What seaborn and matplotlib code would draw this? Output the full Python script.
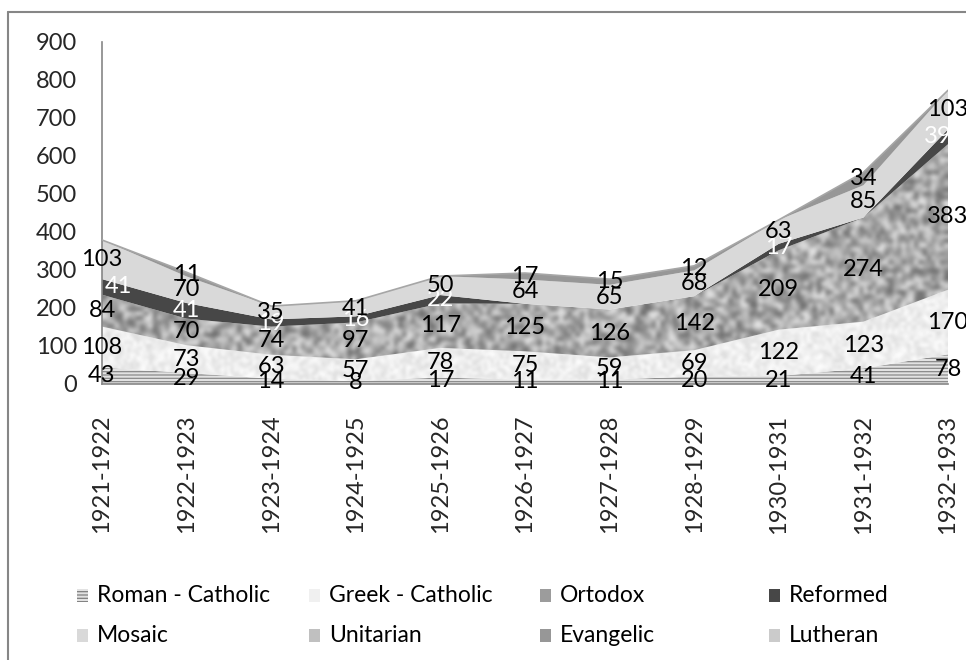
import numpy as np
import pandas as pd
import matplotlib
matplotlib.use("Agg")
import matplotlib.pyplot as plt
from matplotlib.patches import Rectangle
from matplotlib.lines import Line2D
import seaborn as sns

# ---- data: pupils by confession, school years ----
years = ["1921-1922", "1922-1923", "1923-1924", "1924-1925", "1925-1926",
         "1926-1927", "1927-1928", "1928-1929", "1930-1931", "1931-1932",
         "1932-1933"]
roman_catholic = [43, 29, 14, 8, 17, 11, 11, 20, 21, 41, 78]
greek_catholic = [108, 73, 63, 57, 78, 75, 59, 69, 122, 123, 170]
ortodox = [84, 70, 74, 97, 117, 125, 126, 142, 209, 274, 383]
reformed = [41, 41, 19, 16, 22, 0, 0, 0, 17, 0, 39]
mosaic = [103, 70, 35, 41, 50, 64, 65, 68, 63, 85, 103]
unitarian = [0, 0, 0, 0, 0, 0, 0, 0, 0, 0, 0]
evangelic = [0, 11, 0, 0, 0, 17, 15, 12, 0, 34, 0]
lutheran = [0, 0, 0, 0, 0, 0, 0, 0, 0, 0, 0]

series_names = ["Roman - Catholic", "Greek - Catholic", "Ortodox", "Reformed",
                "Mosaic", "Unitarian", "Evangelic", "Lutheran"]
series_values = [roman_catholic, greek_catholic, ortodox, reformed,
                 mosaic, unitarian, evangelic, lutheran]

df = pd.DataFrame(dict(zip(series_names, series_values)), index=years)

sns.set_theme(style="white")
plt.rcParams["font.family"] = ["Lato", "DejaVu Sans"]
plt.rcParams["hatch.linewidth"] = 0.9

W, H = 966, 660
fig = plt.figure(figsize=(W / 100, H / 100), dpi=100)
fig.patch.set_facecolor("white")

left, right, top, bottom = 102, 948, 42, 384
ax = fig.add_axes([left / W, 1 - bottom / H, (right - left) / W, (bottom - top) / H])
ax.set_facecolor("none")

x = np.arange(len(years))
cum = df.cumsum(axis=1)
lowers = cum.shift(1, axis=1).fillna(0)

grays = sns.color_palette(["#dcdcdc", "#f2f2f2", "#a4a4a4", "#474747",
                           "#d9d9d9", "#c0c0c0", "#979797", "#cbcbcb"])

rng = np.random.default_rng(7)


def textured(lo, hi, g0, g1, cells, zorder):
    """Fill the band between lo and hi with a mottled gray texture."""
    poly = ax.fill_between(x, lo, hi, facecolor="none", edgecolor="none",
                           linewidth=0, zorder=zorder)
    noise = rng.random(cells)
    tex = g0 + (g1 - g0) * noise
    img = ax.imshow(tex, extent=[0, len(years) - 1, 0, 900], aspect="auto",
                    cmap="gray", vmin=0, vmax=1, interpolation="bicubic",
                    origin="lower", zorder=zorder)
    img.set_clip_path(poly.get_paths()[0], ax.transData)


for i, name in enumerate(series_names):
    lo = lowers[name].values
    hi = cum[name].values
    if name == "Greek - Catholic":
        textured(lo, hi, 0.86, 1.0, (110, 270), 2)
    elif name == "Ortodox":
        textured(lo, hi, 0.40, 0.92, (80, 200), 2)
    elif name == "Roman - Catholic":
        ax.fill_between(x, lo, hi, facecolor="#e2e2e2", edgecolor="#8a8a8a",
                        hatch="-" * 5, linewidth=0, zorder=2)
    else:
        ax.fill_between(x, lo, hi, facecolor=grays[i], edgecolor="none",
                        linewidth=0, zorder=2)

# outline along the top of the stack
ax.plot(x, cum["Lutheran"].values, color="#a6a6a6", lw=1.2, zorder=3)

# data labels at the middle of each band
label_colors = {"Reformed": "white"}
last = len(years) - 1
for name in series_names:
    mids = (lowers[name].values + cum[name].values) / 2
    for xi, v, m in zip(x, df[name].values, mids):
        if v == 0:
            continue
        ha = "center"
        xpos = xi
        if name == "Reformed" and xi == 0:
            ha, xpos = "left", 0.03
        elif name == "Reformed" and xi == last:
            xpos = last - 0.12
        ax.text(xpos, m, f"{v}", ha=ha, va="center", fontsize=17,
                color=label_colors.get(name, "black"), zorder=5, clip_on=False)

ax.set_xlim(0, last)
ax.set_ylim(0, 900)
ax.set_yticks(range(0, 901, 100))
ax.set_xticks(x)
ax.set_xticklabels(years, rotation=90, fontsize=17)
ax.tick_params(axis="y", labelsize=17, length=0, pad=18)
ax.tick_params(axis="x", length=0, pad=22)
for lab in ax.get_xticklabels():
    lab.set_verticalalignment("top")

sns.despine(ax=ax, top=True, right=True)
for s in ["left", "bottom"]:
    ax.spines[s].set_color("#868686")
    ax.spines[s].set_linewidth(1.2)
ax.grid(False)

# legend: two rows of four entries
col_x = [77, 309, 540, 769]
row_y = [596, 636]
legend_faces = ["#e2e2e2", "#f0f0f0", "#9c9c9c", "#474747",
                "#d9d9d9", "#c0c0c0", "#979797", "#cbcbcb"]
for k, name in enumerate(series_names):
    cx = col_x[k % 4]
    cy = row_y[k // 4]
    hatch = "-" * 5 if name == "Roman - Catholic" else None
    fig.patches.append(Rectangle((cx / W, 1 - (cy + 6) / H), 11 / W, 13 / H,
                                 transform=fig.transFigure, facecolor=legend_faces[k],
                                 edgecolor="#7f7f7f" if hatch else "none",
                                 hatch=hatch, linewidth=0))
    fig.text((cx + 20) / W, 1 - cy / H, name, fontsize=16.5, ha="left",
             va="center", color="black")

# chart frame
fig.add_artist(Line2D([8 / W, 8 / W], [0, 1 - 12 / H], transform=fig.transFigure,
                      color="#868686", lw=1.5))
fig.add_artist(Line2D([8 / W, 1], [1 - 12 / H, 1 - 12 / H], transform=fig.transFigure,
                      color="#868686", lw=1.5))

fig.savefig("out.png", dpi=100)
